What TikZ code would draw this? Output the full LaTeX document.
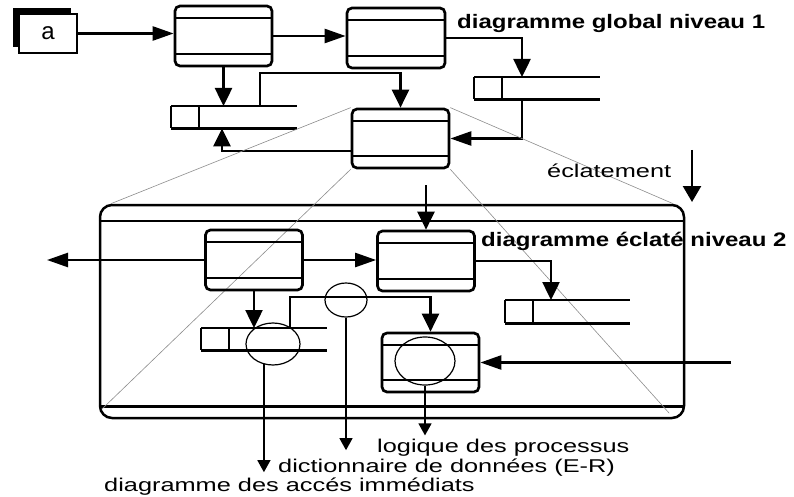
\documentclass[tikz,border=0pt]{standalone}
\usepackage{fontspec}
\setmainfont{Liberation Sans}
\newfontfamily\labfont[FakeStretch=1.37]{Liberation Sans}
\newfontfamily\titlefont[FakeStretch=1.23]{Liberation Sans Bold}
\usetikzlibrary{arrows.meta,shapes.geometric,shadows,calc}

% lines of a data store: open box with a small key cell on the left
\newcommand\storelines[1]{%
  \draw[flow] (#1.north west) -- (#1.north east)
              (#1.south west) -- (#1.south east)
              (#1.north west) -- (#1.south west)
              ([xshift=28pt]#1.north west) -- ([xshift=28pt]#1.south west);}

\begin{document}
\begin{tikzpicture}[x=1pt,y=-1pt,
  flow/.style={line width=2.5pt},
  ha/.style={-{Triangle[length=21pt,width=14pt]}},
  va/.style={-{Triangle[length=18pt,width=17pt]}},
  tl/.style={line width=1.3pt,-{Triangle[length=12pt,width=13pt]}},
  proc/.style={draw,line width=2.7pt,rounded corners=5pt,
    minimum width=97pt,minimum height=60pt,inner sep=0pt,
    path picture={\draw[line width=2.7pt]
      ([yshift=-12pt]path picture bounding box.north west) --
      ([yshift=-12pt]path picture bounding box.north east)
      ([yshift=12pt]path picture bounding box.south west) --
      ([yshift=12pt]path picture bounding box.south east);}},
  store/.style={minimum width=126pt,minimum height=22pt,inner sep=0pt,anchor=north west},
  oval/.style={draw,ellipse,line width=1.2pt,inner sep=0pt},
  zoomln/.style={draw=black!45,line width=0.6pt},
  lab/.style={font=\labfont\fontsize{18.5}{20}\selectfont,inner sep=0pt,anchor=base west},
  ttl/.style={font=\titlefont\fontsize{19.5}{22}\selectfont,inner sep=0pt,anchor=base west}]

\useasboundingbox (0,0) rectangle (794,497);

% ---------- level 1 ----------
\node[draw,fill=white,line width=2.5pt,minimum width=58pt,minimum height=39pt,inner sep=0pt,
      general shadow={fill=black,shadow xshift=-6pt,shadow yshift=5.5pt},
      font=\fontsize{24}{26}\selectfont] (a) at (48,33.5) {a};

\node[proc] (p1) at (223.5,36) {};
\node[proc,minimum width=98pt] (p2) at (396,38) {};
\node[proc,minimum height=59pt] (p3) at (400.5,138.5) {};

\node[store] (s1) at (171,106) {};
\node[store] (s2) at (474,77) {};
\storelines{s1}
\storelines{s2}

\node[ttl] (t1) at (457,28.5) {diagramme global niveau 1};

\draw[flow,ha] (a.east) -- (a.east -| p1.west);
\draw[flow,ha] (p1.east) -- (p1.east -| p2.west);
\draw[flow,va] (p2.east) -| ([xshift=48pt]s2.north west);
\draw[flow,ha] ([xshift=48pt]s2.south west) |- (p3.east);
\draw[flow,va] (p1.south) -- (p1.south |- s1.north);
\draw[flow,va] ([xshift=89pt]s1.north west) -- ++(0,-33) -| (p3.north);
\draw[flow,va] ([yshift=-12.5pt]p3.west) -| ([xshift=51pt]s1.south west);

% ---------- explosion ----------
\node[draw,line width=2.5pt,rounded corners=12pt,minimum width=584pt,
      minimum height=213pt,inner sep=0pt] (big) at (392,311.5) {};
\draw[flow] ([yshift=-17pt]big.north west) -- ([yshift=-17pt]big.north east);
\draw[flow] ([yshift=13pt]big.south west) -- ([yshift=13pt]big.south east);

\draw[zoomln] (p3.north west) -- ([xshift=12pt]big.north west);
\draw[zoomln] (p3.north east) -- ([xshift=-12pt]big.north east);
\draw[zoomln] (p3.south west) -- ([shift={(3pt,10pt)}]big.south west);
\draw[zoomln] (p3.south east) -- ([shift={(-16pt,6pt)}]big.south east);

\node[lab] (ecl) at (547,177) {éclatement};
\coordinate (ea) at (692,150);
\coordinate (eb) at (692,202);
\draw[flow,-{Triangle[length=16pt,width=18pt]}] (ea) -- (eb);

% ---------- level 2 ----------
\node[proc] (q1) at (254,260) {};
\node[proc] (q2) at (426,261) {};
\node[proc,minimum height=59pt] (q3) at (430.5,362.5) {};

\node[store] (s3) at (201,328) {};
\node[store,minimum width=125pt,minimum height=23pt] (s4) at (505,300) {};
\storelines{s3}
\storelines{s4}

\node[ttl] (t2) at (481,246) {diagramme éclaté niveau 2};

\coordinate (drop) at (426,185);
\coordinate (outl) at (47,258);
\coordinate (inr) at (731,362.5);

\draw[flow,va] (drop) -- (q2.north);
\draw[flow,ha] (q1.west) -- (q1.west -| outl);
\draw[flow,ha] (q1.east) -- (q1.east -| q2.west);
\draw[flow,va] (q2.east) -| ([xshift=46pt]s4.north west);
\draw[flow,va] (q1.south) -- (q1.south |- s3.north);
\draw[flow,va] ([xshift=89pt]s3.north west) -- ++(0,-31) -| (q3.north);
\draw[flow,ha] (inr) -- (q3.east);

\node[oval,minimum width=54pt,minimum height=42pt] (e1) at (273,344) {};
\node[oval,minimum width=42pt,minimum height=34pt] (e2) at (346,300) {};
\node[oval,minimum width=60pt,minimum height=48pt] (e3) at (425,361) {};

% ---------- views ----------
\node[lab] (l1) at (377,452) {logique des processus};
\node[lab] (l2) at (278,472) {dictionnaire de données (E-R)};
\node[lab] (l3) at (104,491) {diagramme des accés immédiats};

\draw[tl] (e3.south) -- ([yshift=3pt]l1.north -| e3.south);
\draw[tl] (e2.south) -- ([yshift=8pt]l2.north -| e2.south);
\draw[tl] (e1.-114) -- ([yshift=5pt]l3.north -| e1.-114);

\end{tikzpicture}
\end{document}
